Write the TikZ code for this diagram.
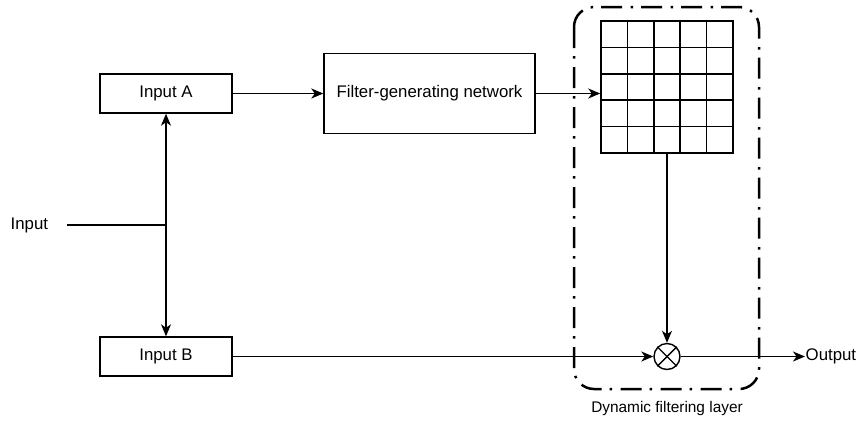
\documentclass[tikz,border=0pt]{standalone}
\usepackage{fontspec}
\setmainfont{Liberation Sans}
\usetikzlibrary{arrows.meta}
\begin{document}
\begin{tikzpicture}[x=1pt,y=-1pt,
  line width=1.4pt,
  every node/.style={font=\fontsize{16.8}{20}\selectfont},
  blockbox/.style={draw, rectangle, inner sep=0pt, minimum width=132pt, minimum height=39pt},
  arr/.style={-{Stealth[length=12pt,width=10pt,inset=3.5pt]}},
  layerframe/.style={line width=2.5pt, rounded corners=20pt,
    dash pattern=on 21pt off 8pt on 2.5pt off 8.5pt},
  gridline/.style={line width=1.5pt}
]
\useasboundingbox (0,0) rectangle (864,421);

% inputs and the filter-generating network
\node[blockbox] (inA) at (166,93.5) {Input A};
\node[blockbox] (inB) at (166,356.5) {Input B};
\node[draw, rectangle, minimum width=211pt, minimum height=80pt, inner sep=0pt] (fgn) at (429.5,93.5) {Filter-generating network};
\node[anchor=west, inner sep=0pt] (inp) at (10,225) {Input};
\coordinate (inStart) at (67,225);
\coordinate (split) at (166,225);

% generated filter as a 5x5 grid
\node[draw, gridline, minimum width=132pt, minimum height=132pt, inner sep=0pt] (grid) at (667,87) {};
\foreach \i in {1,...,4} {
  \draw[gridline] (601+\i*26.4,21) -- (601+\i*26.4,153);
  \draw[gridline] (601,21+\i*26.4) -- (733,21+\i*26.4);
}

% multiplication node
\node[draw, circle, minimum size=26pt, inner sep=0pt] (mult) at (667,356.5) {};
\draw (mult.north west) -- (mult.south east);
\draw (mult.north east) -- (mult.south west);

% output label
\node[anchor=west, inner sep=0pt] (out) at (805,356.5) {Output};

% dynamic filtering layer frame
\draw[layerframe] (574,7) rectangle (759,389);
\node[font=\fontsize{15.4}{18}\selectfont] (lbl) at (667,409) {Dynamic filtering layer};

% connectors
\draw (inStart) -- (split);
\draw[arr] (split) -- (inA.south);
\draw[arr] (split) -- (inB.north);
\draw[arr] (inA.east) -- (fgn.west);
\draw[arr] (fgn.east) -- (fgn.east -| grid.west);
\draw[arr] (grid.south) -- (mult.north);
\draw[arr] (inB.east) -- (mult.west);
\draw[arr] (mult.east) -- (out.west);
\end{tikzpicture}
\end{document}
